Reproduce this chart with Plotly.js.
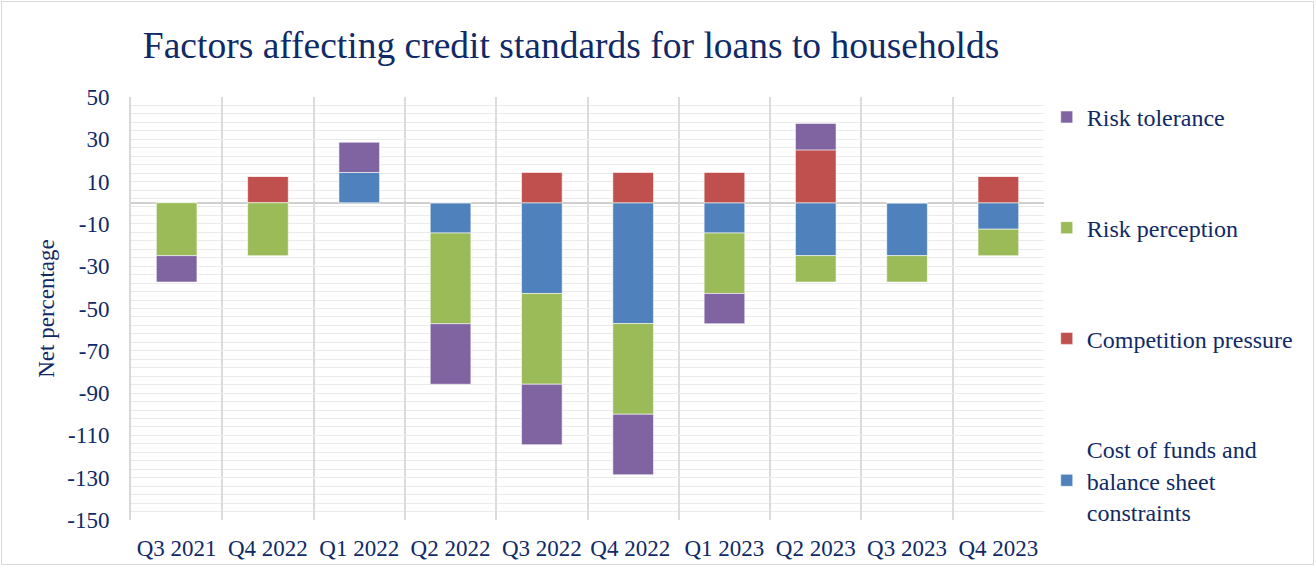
<!DOCTYPE html>
<html>
<head>
<meta charset="utf-8">
<script src="https://cdn.plot.ly/plotly-3.0.1.min.js"></script>
<style>
  html, body { margin: 0; padding: 0; background: #fff; }
  #wrap { position: relative; width: 1316px; height: 567px; }
  #chart { width: 1316px; height: 567px; }
  #frame { position: absolute; left: 1px; top: 1px; width: 1311px; height: 562px;
           border: 1.5px solid #d9d9d9; pointer-events: none; }
</style>
</head>
<body>
<div id="wrap">
  <div id="chart"></div>
  <div id="frame"></div>
</div>
<script>
const categories = ["Q3 2021", "Q4 2022", "Q1 2022", "Q2 2022", "Q3 2022", "Q4 2022 ", "Q1 2023", "Q2 2023", "Q3 2023", "Q4 2023"];
const costOfFunds      = [0, 0, 14.3, -14.3, -42.9, -57.1, -14.3, -25, -25, -12.5];
const competition      = [0, 12.5, 0, 0, 14.3, 14.3, 14.3, 25, 0, 12.5];
const riskPerception   = [-25, -25, 0, -42.9, -42.9, -42.9, -28.6, -12.5, -12.5, -12.5];
const riskTolerance    = [-12.5, 0, 14.3, -28.6, -28.6, -28.6, -14.3, 12.5, 0, 0];

const yTickVals   = [50, 30, 10, -10, -30, -50, -70, -90, -110, -130, -150];
const yTickLabels = ["50", "30", "10", "-10", "-30", "-50", "-70", "-90", "-110", "-130", "-150"];

const seriesNames  = ["Cost of funds and<br>balance sheet<br>constraints", "Competition pressure", "Risk perception", "Risk tolerance"];
const seriesColors = ["#4F81BD", "#C0504D", "#9BBB59", "#8064A2"];
const seriesValues = [costOfFunds, competition, riskPerception, riskTolerance];
const legendRanks  = [4, 3, 2, 1];

const textColor = "#0f2a66";
const font = "'Liberation Serif', 'Times New Roman', serif";

const traces = seriesValues.map((vals, i) => ({
  type: "bar",
  name: seriesNames[i],
  x: categories,
  y: vals,
  legendgroup: "g" + i,
  legendrank: legendRanks[i],
  marker: { color: seriesColors[i], line: { color: "rgba(255,255,255,0.55)", width: 1 } },
  hoverinfo: "x+y+name"
}));

const layout = {
  width: 1316,
  height: 567,
  paper_bgcolor: "#ffffff",
  plot_bgcolor: "#ffffff",
  barmode: "relative",
  bargap: 0.555,
  margin: { l: 131, r: 272, t: 97, b: 47, pad: 0 },
  font: { family: font, color: textColor, size: 23 },
  title: {
    text: "Factors affecting credit standards for loans to households",
    font: { family: font, size: 37.5, color: textColor },
    x: 0.482, xanchor: "center", xref: "paper",
    y: 0.92, yanchor: "middle"
  },
  xaxis: {
    type: "category",
    tickson: "boundaries",
    tickangle: 0,
    showgrid: true,
    gridcolor: "#dcdcdc",
    gridwidth: 2,
    ticks: "",
    showline: false,
    tickfont: { family: font, size: 23, color: textColor },
    ticklabelstandoff: 12,
    zeroline: false
  },
  yaxis: {
    range: [-150, 50],
    tickmode: "array",
    tickvals: yTickVals,
    ticktext: yTickLabels,
    showgrid: true,
    gridcolor: "#ebebeb",
    gridwidth: 1,
    minor: { tick0: 2, dtick: 4, showgrid: true, gridcolor: "#ebebeb", gridwidth: 1 },
    zeroline: true,
    zerolinecolor: "#d0d0d0",
    zerolinewidth: 2,
    showline: true,
    linecolor: "#d9d9d9",
    linewidth: 2,
    ticks: "",
    ticklabelstandoff: 15,
    tickfont: { family: font, size: 23, color: textColor },
    title: { text: "Net percentage", font: { family: font, size: 23, color: textColor }, standoff: 6 }
  },
  legend: {
    x: 1.003, xanchor: "left",
    y: 1.005, yanchor: "top",
    traceorder: "grouped",
    tracegroupgap: 76.5,
    itemwidth: 30,
    maxheight: 560,
    font: { family: font, size: 24, color: textColor },
    bgcolor: "rgba(0,0,0,0)"
  },
  showlegend: true
};

Plotly.newPlot("chart", traces, layout, { displayModeBar: false, staticPlot: true });
</script>
</body>
</html>
